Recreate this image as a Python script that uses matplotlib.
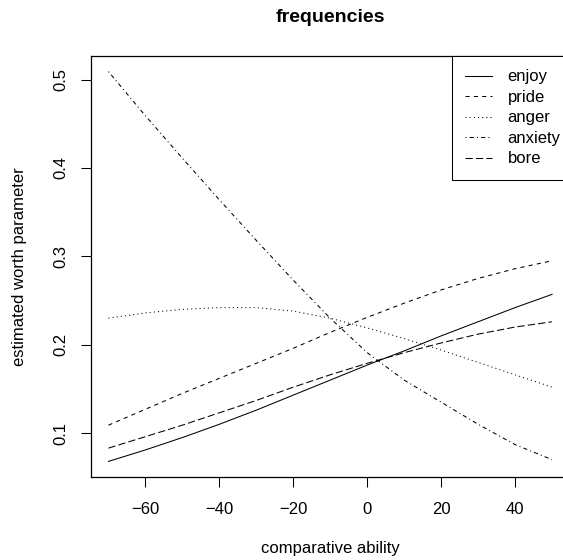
import numpy as np
import matplotlib
matplotlib.use("Agg")
import matplotlib.pyplot as plt

# comparative ability grid and estimated worth parameters
ability = [-70, -60, -50, -40, -30, -20, -10, 0, 10, 20, 30, 40, 50]
enjoy = [0.068, 0.081, 0.095, 0.110, 0.126, 0.143, 0.160, 0.177, 0.193, 0.210, 0.226, 0.242, 0.257]
pride = [0.109, 0.127, 0.145, 0.162, 0.179, 0.196, 0.214, 0.231, 0.247, 0.262, 0.275, 0.286, 0.295]
anger = [0.230, 0.236, 0.240, 0.242, 0.242, 0.238, 0.230, 0.219, 0.207, 0.194, 0.180, 0.166, 0.152]
anxiety = [0.509, 0.459, 0.411, 0.364, 0.318, 0.273, 0.230, 0.191, 0.160, 0.135, 0.110, 0.087, 0.070]
bore = [0.083, 0.096, 0.109, 0.123, 0.137, 0.152, 0.166, 0.179, 0.191, 0.202, 0.212, 0.220, 0.226]

emotions = ["enjoy", "pride", "anger", "anxiety", "bore"]
series = [enjoy, pride, anger, anxiety, bore]
# R lty 1..5: solid, dashed, dotted, dotdash, longdash
styles = ["-", (0, (4, 4)), (0, (1, 3)), (0, (1, 3, 4, 3)), (0, (7, 3))]

xticks = [-60, -40, -20, 0, 20, 40]
yticks = [0.1, 0.2, 0.3, 0.4, 0.5]

plt.rcParams["font.family"] = ["Liberation Sans", "DejaVu Sans"]

fig = plt.figure(figsize=(5.63, 5.60), dpi=100)
# plot region runs a little past the right edge, as in the cropped original
ax = fig.add_axes([90.7 / 563, 1 - 477 / 560, (569.8 - 90.7) / 563, (477 - 56) / 560])

for vals, ls, name in zip(series, styles, emotions):
    ax.plot(ability, vals, color="black", linestyle=ls, linewidth=0.75, label=name)

# R-style 4% axis extension
xr = max(ability) - min(ability)
ax.set_xlim(min(ability) - 0.04 * xr, max(ability) + 0.04 * xr)
allv = np.concatenate([np.asarray(s) for s in series])
yr = allv.max() - allv.min()
ax.set_ylim(allv.min() - 0.04 * yr, allv.max() + 0.04 * yr)

ax.set_xticks(xticks)
ax.set_xticklabels([str(t).replace("-", "\u2212") for t in xticks])
ax.set_yticks(yticks)
ax.set_yticklabels([str(t) for t in yticks], rotation=90, va="center")
ax.tick_params(axis="both", length=7, width=0.75, labelsize=12, color="black")
ax.tick_params(axis="x", pad=11)
ax.tick_params(axis="y", pad=9)
for sp in ax.spines.values():
    sp.set_linewidth(0.9)

ax.set_xlabel("comparative ability", fontsize=12)
ax.xaxis.set_label_coords(0.5, (477 - 548) / 421)
ax.xaxis.label.set_va("center")
ax.set_ylabel("estimated worth parameter", fontsize=12)
ax.yaxis.set_label_coords((19 - 90.7) / 479.1, 0.5)
ax.yaxis.label.set_va("center")
fig.text(330 / 563, 1 - 17 / 560, "frequencies", ha="center", va="center",
         fontsize=14, fontweight="bold")

leg = ax.legend(loc="upper right", bbox_to_anchor=(1 + 4 / 479, 1), borderaxespad=0,
                fancybox=False, framealpha=1, edgecolor="black", fontsize=12,
                handlelength=1.6, handletextpad=0.95, borderpad=0.8,
                labelspacing=0.33)
leg.get_frame().set_linewidth(0.75)

fig.savefig("out.png", dpi=100)
